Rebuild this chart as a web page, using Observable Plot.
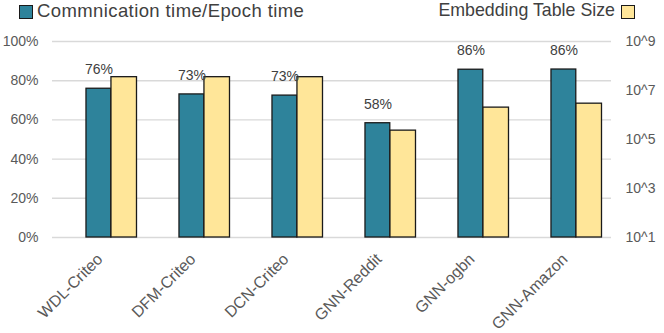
<!DOCTYPE html>
<html>
<head>
<meta charset="utf-8">
<script src="https://cdn.jsdelivr.net/npm/d3@7"></script>
<script src="https://cdn.jsdelivr.net/npm/@observablehq/plot@0.6"></script>
<style>
  body { margin: 0; background: #fff; font-family: "Liberation Sans", Arial, sans-serif; }
  #legend { position: relative; width: 664px; height: 30px; font-size: 18.5px; color: #404040; }
  .sw { position: absolute; top: 5px; width: 12px; height: 12px; border: 1.3px solid #1a1a1a; }
  .lt { position: absolute; top: 0px; white-space: nowrap; }
</style>
</head>
<body>
<div id="legend">
  <div class="sw" style="left:19px;background:#2e839b"></div>
  <div class="lt" style="left:37px;letter-spacing:0.4px">Commnication time/Epoch time</div>
  <div class="lt" style="right:49px;font-size:17.8px">Embedding Table Size</div>
  <div class="sw" style="left:621px;background:#ffe699"></div>
</div>
<div id="chart"></div>
<script>
const categories = ["WDL-Criteo", "DFM-Criteo", "DCN-Criteo", "GNN-Reddit", "GNN-ogbn", "GNN-Amazon"];
const commRatio = [75.9, 73.0, 72.4, 58.3, 85.6, 85.7];
const commLabels = ["76%", "73%", "73%", "58%", "86%", "86%"];
const tableSize = [3.5e7, 3.5e7, 3.5e7, 2.3e5, 2.0e6, 2.9e6];
const leftTicks = [0, 20, 40, 60, 80, 100];
const rightTicks = [1e1, 1e3, 1e5, 1e7, 1e9];

const sec = d3.scaleLog().domain([1e1, 1e9]).range([0, 100]);
const data = categories.map((c, i) => ({cat: c, comm: commRatio[i], label: commLabels[i], size: tableSize[i]}));

const W = 664, ML = 52, MR = 53;
const bw = (W - ML - MR) / categories.length;

const chart = Plot.plot({
  width: W,
  height: 303,
  marginLeft: ML,
  marginRight: MR,
  marginTop: 11,
  marginBottom: 96,
  style: {fontFamily: "Liberation Sans, Arial, sans-serif", background: "#fff"},
  x: {domain: categories, padding: 0, axis: null},
  y: {domain: [0, 100], axis: null},
  marks: [
    Plot.gridY(leftTicks, {stroke: "#d9d9d9", strokeOpacity: 1, strokeWidth: 1.4}),
    Plot.barY(data, {x: "cat", y: "comm", fill: "#2e839b", stroke: "#1a1a1a", strokeWidth: 1.3,
      insetLeft: bw * 0.354, insetRight: bw * 0.378}),
    Plot.barY(data, {x: "cat", y: d => sec(d.size), fill: "#ffe699", stroke: "#1a1a1a", strokeWidth: 1.3,
      insetLeft: bw * 0.622, insetRight: bw * 0.102}),
    Plot.text(data, {x: "cat", y: "comm", text: "label", dx: -1, dy: -19, fontSize: 14, fill: "#404040"}),
    Plot.axisY(leftTicks, {anchor: "left", label: null, tickSize: 0, tickPadding: 14, fontSize: 14, fill: "#595959",
      tickFormat: d => d + "%"}),
    Plot.axisY(rightTicks.map(v => sec(v)), {anchor: "right", label: null, tickSize: 0, tickPadding: 14, fontSize: 14, fill: "#595959",
      tickFormat: d => "10^" + Math.round(Math.log10(sec.invert(d)))}),
    Plot.axisX({label: null, tickRotate: -45, tickSize: 0, tickPadding: 19, fontSize: 16, fill: "#595959", dx: 0})
  ]
});
document.getElementById("chart").appendChild(chart);
</script>
</body>
</html>
